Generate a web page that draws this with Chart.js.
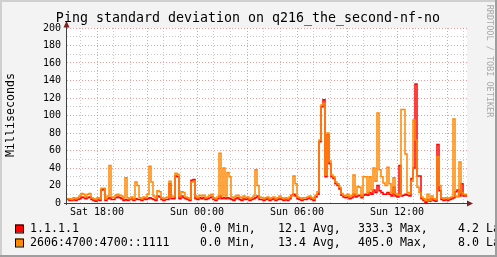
<!DOCTYPE html>
<html><head><meta charset="utf-8">
<script src="https://cdn.jsdelivr.net/npm/chart.js@4.4.0/dist/chart.umd.min.js"></script>
<style>html,body{margin:0;padding:0;background:#f3f3f3;}canvas{display:block}</style>
</head><body>
<canvas id="c" width="497" height="257"></canvas>
<script>
// ---- data ----
const chartTitle = "Ping standard deviation on q216_the_second-nf-no";
const yAxisTitle = "Milliseconds";
const seriesNames = ["1.1.1.1", "2606:4700:4700::1111"];
const stepMinutes = 7.2;            // one sample every 7.2 minutes, 24 h shown
const redValues = [
 4,4,3,3,4,3,4,5,7,6,  5,6,7,4,3,2,4,3,15,16,  3,5,6,4,4,6,7,6,5,3,  4,3,4,5,3,5,4,4,3,5,
 4,5,6,5,4,3,8,7,4,3,  4,4,22,5,5,31,30,5,8,6,  5,4,3,26,27,5,4,6,5,6,  4,5,6,7,4,3,5,8,5,6,
 5,6,5,4,3,5,6,4,3,5,  4,5,3,4,5,6,8,4,4,3,  4,5,3,4,5,3,4,5,4,3,  4,3,5,9,10,8,5,4,3,4,
 4,5,6,4,3,7,10,70,110,118,  30,78,45,30,28,22,20,16,9,7,  6,7,5,6,10,7,8,9,6,9,  10,9,12,10,15,12,20,14,12,10,
 10,12,10,8,18,8,7,43,8,9,  10,9,8,28,40,136,31,31,5,3,  1,4,2,5,3,2,67,14,4,3,  4,3,4,5,6,13,15,8,22,8
];
const orangeValues = [
 6,5,5,4,6,5,6,8,11,10,  7,10,11,6,5,4,6,5,17,17,  5,8,43,7,6,9,10,9,8,6,  29,6,5,7,5,24,20,6,5,7,
 6,10,42,24,8,6,14,13,6,5,  6,7,25,7,8,34,33,8,13,12,  7,6,5,24,25,8,6,9,8,9,  6,7,9,10,6,5,7,57,8,40,
 8,35,30,7,6,8,9,7,6,8,  6,7,5,6,8,38,20,7,6,5,  6,7,5,6,7,5,6,8,6,5,  6,5,7,8,31,22,7,6,5,6,
 6,7,8,6,5,9,13,72,112,114,  32,80,48,32,30,24,22,18,11,9,  8,10,7,9,32,10,19,18,8,30,  30,12,30,15,40,25,103,38,30,23,
 20,41,22,12,29,11,10,9,107,107,  56,12,11,25,95,72,18,12,7,5,  3,10,3,8,5,4,53,20,6,5,  6,5,6,7,96,8,7,47,12,10
];
const minVals = [0.0, 0.0];
const avgVals = [12.1, 13.4];
const maxVals = [333.3, 405.0];
const lastVals = [4.2, 8.0];
const tickHours = [1.8, 7.8, 13.8, 19.8];   // hours after the start of the window
const tickLabels = ["Sat 18:00", "Sun 00:00", "Sun 06:00", "Sun 12:00"];
const yMax = 200;

// ---- build ----
const MONO = '"DejaVu Sans Mono", monospace';
const COLORS = ["#ff0000", "#ff8800"];
function toPoints(vals) {
  const pts = vals.map((v, i) => ({x: i * stepMinutes / 60, y: v}));
  pts.push({x: vals.length * stepMinutes / 60, y: vals[vals.length - 1]});
  return pts;
}
const totalHours = redValues.length * stepMinutes / 60;
const hourTicks = [];
for (let h = 0.8; h < totalHours; h += 1) hourTicks.push(Math.round(h * 10) / 10);
const isMajorX = v => { const k = (v - tickHours[0]) / 3; return Math.abs(k - Math.round(k)) < 1e-6; };
const labelFor = v => { const i = tickHours.findIndex(t => Math.abs(t - v) < 1e-6); return i >= 0 ? tickLabels[i] : ""; };

const MINOR = "rgba(180,180,180,0.7)";
const MAJOR = "rgba(225,90,90,0.6)";

const decor = {
  id: "decor",
  beforeDraw(chart) {
    const c = chart.ctx, a = chart.chartArea;
    c.save();
    c.fillStyle = "#f3f3f3"; c.fillRect(0, 0, chart.width, chart.height);
    c.fillStyle = "#ffffff"; c.fillRect(a.left, a.top, a.right - a.left, a.bottom - a.top);
    c.restore();
  },
  afterDatasetsDraw(chart) {
    const c = chart.ctx, a = chart.chartArea;
    c.save();
    c.strokeStyle = "#404040"; c.lineWidth = 1;
    c.beginPath();
    c.moveTo(a.left - 0.5, a.bottom + 2); c.lineTo(a.left - 0.5, a.top - 4);
    c.moveTo(a.left - 3, a.bottom + 0.5); c.lineTo(a.right + 2, a.bottom + 0.5);
    c.stroke();
    c.fillStyle = "#7f1f1f";
    c.beginPath();
    c.moveTo(a.left - 0.5, a.top - 7); c.lineTo(a.left - 3.5, a.top - 0.5); c.lineTo(a.left + 2.5, a.top - 0.5); c.closePath(); c.fill();
    c.beginPath();
    c.moveTo(a.right + 6, a.bottom + 0.5); c.lineTo(a.right, a.bottom - 2.5); c.lineTo(a.right, a.bottom + 3.5); c.closePath(); c.fill();
    c.restore();
  },
  afterDraw(chart) {
    const c = chart.ctx;
    c.save();
    c.fillStyle = "#000";
    c.font = "13.3px " + MONO; c.textAlign = "center"; c.textBaseline = "middle";
    c.fillText(chartTitle, 248, 19);
    // y title
    c.save(); c.translate(11, 115); c.rotate(-Math.PI / 2);
    c.font = "11.6px " + MONO; c.fillText(yAxisTitle, 0, 0); c.restore();
    // watermark
    c.save(); c.translate(489, 61); c.rotate(Math.PI / 2);
    c.fillStyle = "#a8a8a8"; c.font = "8.5px " + MONO; c.fillText("RRDTOOL / TOBI OETIKER", 0, 0); c.restore();
    // legend
    c.font = "11.6px " + MONO; c.textAlign = "left"; c.textBaseline = "middle";
    const rows = [229, 243];
    for (let i = 0; i < 2; i++) {
      const y = rows[i];
      c.fillStyle = COLORS[i]; c.fillRect(15, y - 4.5, 8, 8);
      c.strokeStyle = "#000"; c.lineWidth = 1; c.strokeRect(15.5, y - 4, 8, 8);
      c.fillStyle = "#000";
      c.fillText(seriesNames[i], 30, y);
      c.fillText(minVals[i].toFixed(1) + " Min,", 200, y);
      c.fillText(avgVals[i].toFixed(1) + " Avg,", 278, y);
      c.fillText(maxVals[i].toFixed(1) + " Max,", 358, y);
      c.fillText(lastVals[i].toFixed(1) + " Last", 458, y);
    }
    // frame
    c.fillStyle = "#cfcfcf"; c.fillRect(0, 0, chart.width, 2); c.fillRect(0, 0, 2, chart.height);
    c.fillStyle = "#9e9e9e"; c.fillRect(0, chart.height - 2, chart.width, 2); c.fillRect(chart.width - 2, 0, 2, chart.height);
    c.restore();
  }
};

new Chart(document.getElementById("c"), {
  type: "line",
  data: {
    datasets: [
      {label: seriesNames[0], data: toPoints(redValues), borderColor: COLORS[0], borderWidth: 1.5, pointRadius: 0, stepped: "after", fill: false, order: 2},
      {label: seriesNames[1], data: toPoints(orangeValues), borderColor: COLORS[1], borderWidth: 1.5, pointRadius: 0, stepped: "after", fill: false, order: 1}
    ]
  },
  options: {
    responsive: false, animation: false, devicePixelRatio: 1,
    layout: {padding: {left: 0, top: 28, right: 30, bottom: 0}},
    plugins: {legend: {display: false}, title: {display: false}, tooltip: {enabled: false}},
    scales: {
      x: {
        type: "linear", min: 0, max: totalHours,
        afterBuildTicks: s => { s.ticks = hourTicks.map(v => ({value: v})); },
        afterFit: s => { s.height = 54; },
        grid: {drawTicks: false, color: ctx => isMajorX(ctx.tick.value) ? MAJOR : MINOR, lineWidth: 1},
        border: {display: false, dash: [1, 2]},
        ticks: {autoSkip: false, maxRotation: 0, minRotation: 0, padding: 3, color: "#000",
                font: {family: MONO, size: 10}, callback: v => labelFor(v)}
      },
      y: {
        min: 0, max: yMax,
        afterFit: s => { s.width = 67; },
        grid: {drawTicks: false, color: ctx => (ctx.tick.value % 20 === 0 ? MAJOR : MINOR), lineWidth: 1},
        border: {display: false, dash: [1, 2]},
        ticks: {stepSize: 10, autoSkip: false, padding: 6, color: "#000",
                font: {family: MONO, size: 10}, callback: v => (v % 20 === 0 ? String(v) : "")}
      }
    }
  },
  plugins: [decor]
});
</script>
</body></html>
